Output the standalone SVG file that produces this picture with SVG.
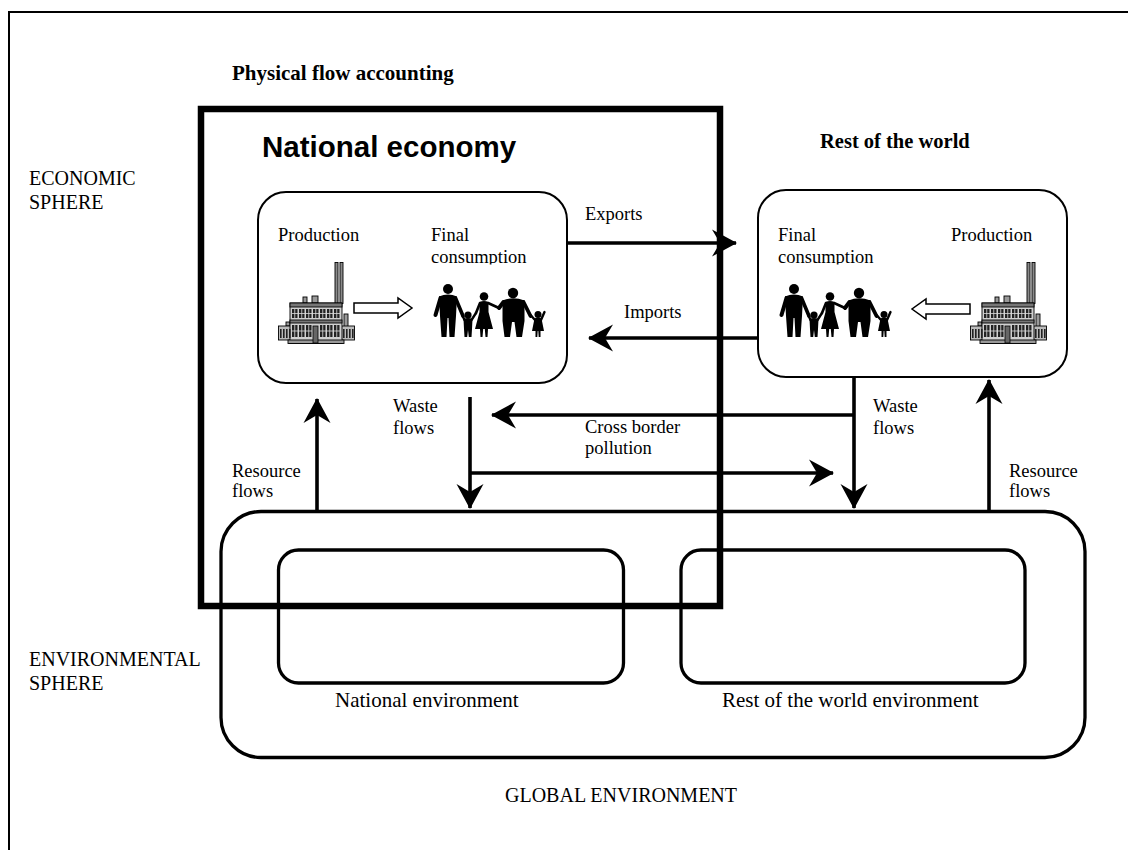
<svg xmlns="http://www.w3.org/2000/svg" width="1128" height="850" viewBox="0 0 1128 850">
  <style>
    .lbl { font-family: "Liberation Serif", "Times New Roman", serif; font-size: 18.5px; fill: #000; }
    .envlbl { font-family: "Liberation Serif", "Times New Roman", serif; font-size: 21px; fill: #000; }
    .side { font-family: "Liberation Serif", "Times New Roman", serif; font-size: 20px; fill: #000; }
    .ttl { font-family: "Liberation Serif", "Times New Roman", serif; font-weight: bold; fill: #000; }
    .sans { font-family: "Liberation Sans", Arial, sans-serif; font-weight: bold; fill: #000; }
    .box { fill: #fff; stroke: #000; stroke-width: 2; }
    .env { fill: none; stroke: #000; stroke-width: 3.3; }
    .flow { fill: none; stroke: #000; stroke-width: 3.6; marker-end: url(#head); }
    .hollow { fill: #fff; stroke: #000; stroke-width: 1.5; }
  </style>
  <defs>
    <marker id="head" markerUnits="userSpaceOnUse" viewBox="-26 -15 28 30" refX="-1" refY="0" markerWidth="28" markerHeight="30" orient="auto">
      <path d="M0 0 L-25 -13.5 L-17 0 L-25 13.5 Z" fill="#000"/>
    </marker>
    <clipPath id="cut-left"><rect x="420" y="245" width="130" height="19.5"/></clipPath>
    <clipPath id="cut-right"><rect x="770" y="245" width="130" height="19.5"/></clipPath>

    <!-- factory clip-art -->
    <symbol id="factory" viewBox="0 0 77 82">
      <g stroke="#000" stroke-width="0.9">
        <rect x="57" y="0.5" width="3" height="41" fill="#8a8a8a"/>
        <rect x="62" y="0.5" width="3" height="41" fill="#8a8a8a"/>
        <rect x="25" y="35" width="4" height="6" fill="#999"/>
        <rect x="34" y="34" width="6" height="7" fill="#999"/>
        <rect x="66" y="52" width="4" height="13" fill="#999"/>
        <rect x="8" y="60" width="4" height="4" fill="#999"/>
        <rect x="0.5" y="64" width="13" height="14" fill="#bbb"/>
        <rect x="63" y="64" width="13.5" height="14" fill="#bbb"/>
        <rect x="12" y="41" width="52" height="40.5" fill="#d0d0d0"/>
        <rect x="12" y="41" width="52" height="4" fill="#777"/>
        <rect x="12" y="58" width="52" height="3" fill="#777"/>
        <rect x="10" y="78" width="56" height="3.5" fill="#999"/>
      </g>
      <g fill="#222">
        <rect x="14" y="47" width="5.5" height="9"/>
        <rect x="21" y="47" width="5.5" height="9"/>
        <rect x="28" y="47" width="5.5" height="9"/>
        <rect x="35" y="47" width="5.5" height="9"/>
        <rect x="42" y="47" width="5.5" height="9"/>
        <rect x="49" y="47" width="5.5" height="9"/>
        <rect x="56" y="47" width="5.5" height="9"/>
        <rect x="14" y="63" width="5.5" height="12"/>
        <rect x="21" y="63" width="5.5" height="12"/>
        <rect x="28" y="63" width="5.5" height="12"/>
        <rect x="42" y="63" width="5.5" height="12"/>
        <rect x="49" y="63" width="5.5" height="12"/>
        <rect x="56" y="63" width="5.5" height="12"/>
        <rect x="2" y="67" width="1.6" height="9"/>
        <rect x="5" y="67" width="1.6" height="9"/>
        <rect x="8" y="67" width="1.6" height="9"/>
        <rect x="11" y="67" width="1.6" height="9"/>
        <rect x="65" y="67" width="1.6" height="9"/>
        <rect x="68" y="67" width="1.6" height="9"/>
        <rect x="71" y="67" width="1.6" height="9"/>
        <rect x="74" y="67" width="1.6" height="9"/>
      </g>
      <g stroke="#ddd" stroke-width="0.8">
        <path d="M14 51.5 H62 M14 69 H34 M42 69 H62"/>
        <path d="M16.75 47 V56 M23.75 47 V56 M30.75 47 V56 M37.75 47 V56 M44.75 47 V56 M51.75 47 V56 M58.75 47 V56"/>
        <path d="M16.75 63 V75 M23.75 63 V75 M30.75 63 V75 M44.75 63 V75 M51.75 63 V75 M58.75 63 V75"/>
      </g>
      <rect x="35" y="64" width="5" height="17" fill="#666" stroke="#000" stroke-width="0.8"/>
    </symbol>

    <!-- family silhouette: man, child, woman, man, child -->
    <symbol id="family" viewBox="0 0 114 54">
      <g fill="#000">
        <circle cx="15" cy="5" r="5"/>
        <path d="M6 12.5 Q15 8.5 24 12.5 L23 32 L21.5 53 L16.5 53 L15.5 34 L14.5 34 L13.5 53 L8.5 53 L7 32 Z"/>
        <circle cx="35" cy="31" r="3.6"/>
        <path d="M30.5 35 Q35 33 39.5 35 L39 45 L38.5 53 L35.8 53 L35 46 L34.2 53 L31.5 53 L31 45 Z"/>
        <circle cx="51" cy="12.5" r="4.3"/>
        <path d="M46.5 18 Q51 16 55.5 18 L55.5 28 L60 45 L55 45 L54.5 53 L52.5 53 L51.8 45 L50.2 45 L49.5 53 L47.5 53 L47 45 L42 45 L46.5 28 Z"/>
        <circle cx="80" cy="9" r="5.2"/>
        <path d="M69.5 16.5 Q80 12 91.5 16.5 L91.5 37 L89 53 L83.5 53 L81.5 38 L79 38 L77 53 L71.5 53 L69.5 37 Z"/>
        <circle cx="105" cy="30.5" r="3.5"/>
        <path d="M101.5 34.5 Q105 32.5 108.5 34.5 L111 47 L107.5 47 L107.5 53 L105.7 53 L105.3 47 L104.7 47 L104.3 53 L102.5 53 L102.5 47 L99 47 Z"/>
      </g>
      <g fill="none" stroke="#000" stroke-linecap="round" stroke-linejoin="round">
        <path d="M7.5 14 L2.5 31" stroke-width="4"/>
        <path d="M22.5 14 L30 32" stroke-width="3.6"/>
        <path d="M31.5 36 L29.5 31.5" stroke-width="2.4"/>
        <path d="M38.5 36 L43 29" stroke-width="2.4"/>
        <path d="M47 19 L43 29" stroke-width="2.6"/>
        <path d="M55 19 L66 24" stroke-width="2.6"/>
        <path d="M70.5 18 L66 24" stroke-width="4"/>
        <path d="M90.5 18 L97.5 32" stroke-width="3.8"/>
        <path d="M102 36 L98 31.5" stroke-width="2.4"/>
        <path d="M108 36 L111.5 28" stroke-width="2.4"/>
      </g>
    </symbol>
  </defs>

  <rect width="1128" height="850" fill="#fff"/>

  <!-- page frame -->
  <g id="frame">
    <rect x="9" y="12" width="1140" height="860" fill="none" stroke="#000" stroke-width="2"/>
  </g>

  <g id="title">
    <text class="ttl" x="232" y="80" font-size="21">Physical flow accounting</text>
  </g>

  <g id="sphere-labels">
    <text class="side" x="29" y="185">ECONOMIC</text>
    <text class="side" x="29" y="209">SPHERE</text>
    <text class="side" x="29" y="666">ENVIRONMENTAL</text>
    <text class="side" x="29" y="690">SPHERE</text>
  </g>

  <!-- environment boxes -->
  <g id="global-environment">
    <rect class="env" x="221" y="511.5" width="864" height="246" rx="40"/>
    <text class="side" x="505" y="802">GLOBAL ENVIRONMENT</text>
  </g>
  <g id="national-environment">
    <rect class="env" x="278.5" y="550" width="345" height="133" rx="20"/>
    <text class="envlbl" x="335" y="707">National environment</text>
  </g>
  <g id="rest-of-world-environment">
    <rect class="env" x="681" y="550" width="344" height="133" rx="20"/>
    <text class="envlbl" x="722" y="707">Rest of the world environment</text>
  </g>

  <!-- national economy boundary -->
  <g id="national-economy">
    <rect x="201" y="109" width="519" height="497" fill="none" stroke="#000" stroke-width="6.5"/>
    <text class="sans" x="262" y="157" font-size="29.5">National economy</text>
  </g>

  <g id="national-processes">
    <rect class="box" x="258" y="192" width="309" height="191" rx="28"/>
    <text class="lbl" x="278" y="241">Production</text>
    <text class="lbl" x="431" y="241">Final</text>
    <text class="lbl" x="431" y="263" clip-path="url(#cut-left)">consumption</text>
    <use href="#factory" x="278" y="262" width="77" height="82"/>
    <path class="hollow" d="M354 303 H398 V298 L412 308 L398 318 V313 H354 Z"/>
    <use href="#family" x="433" y="284" width="114" height="54"/>
  </g>

  <g id="rest-of-world">
    <text class="ttl" x="820" y="148" font-size="20.5">Rest of the world</text>
    <rect class="box" x="758" y="190" width="309" height="187" rx="28"/>
    <text class="lbl" x="778" y="241">Final</text>
    <text class="lbl" x="778" y="263" clip-path="url(#cut-right)">consumption</text>
    <text class="lbl" x="951" y="241">Production</text>
    <use href="#family" x="779" y="284" width="114" height="54"/>
    <path class="hollow" d="M970 304 H926 V299 L912 309 L926 319 V314 H970 Z"/>
    <use href="#factory" x="970" y="262" width="77" height="82"/>
  </g>

  <!-- flows between economies and environment -->
  <g id="connectors">
    <path class="flow" d="M567 243 H736"/>
    <path class="flow" d="M758 338 H589"/>
    <path class="flow" d="M470 397 V508"/>
    <path class="flow" d="M854 377 V508"/>
    <path class="flow" d="M854 415 H492"/>
    <path class="flow" d="M470 473 H833"/>
    <path class="flow" d="M317 511 V399"/>
    <path class="flow" d="M989 511 V380"/>
  </g>

  <g id="flow-labels">
    <text class="lbl" x="585" y="220">Exports</text>
    <text class="lbl" x="624" y="318">Imports</text>
    <text class="lbl" x="393" y="412">Waste</text>
    <text class="lbl" x="393" y="434">flows</text>
    <text class="lbl" x="873" y="412">Waste</text>
    <text class="lbl" x="873" y="434">flows</text>
    <text class="lbl" x="585" y="433">Cross border</text>
    <text class="lbl" x="585" y="454">pollution</text>
    <text class="lbl" x="232" y="477">Resource</text>
    <text class="lbl" x="232" y="497">flows</text>
    <text class="lbl" x="1009" y="477">Resource</text>
    <text class="lbl" x="1009" y="497">flows</text>
  </g>
</svg>
